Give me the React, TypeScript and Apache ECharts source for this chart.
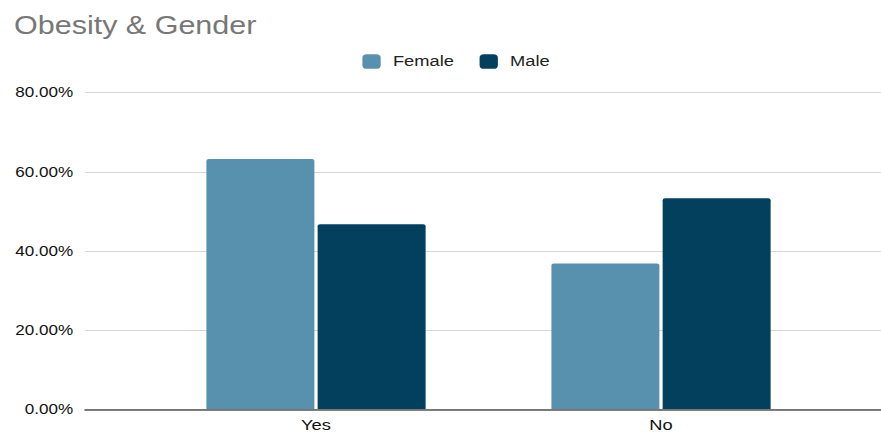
import React, { useEffect, useRef } from "react";
import * as echarts from "echarts";

const categories = ["Yes", "No"];
const femaleValues = [63.2, 36.8];
const maleValues = [46.7, 53.3];
const yTicks = { min: 0, max: 80, interval: 20 };

// The chart is laid out on a narrower canvas and widened horizontally,
// which gives the broad, stretched lettering of the original export.
const OUT_W = 881;
const OUT_H = 433;
const INNER_W = 722;
const SX = OUT_W / INNER_W;

export default function App() {
  const ref = useRef<HTMLDivElement>(null);

  useEffect(() => {
    document.body.style.margin = "0";
    const chart = echarts.init(ref.current!, null, { renderer: "svg" });
    const font = "'Liberation Sans', Arial, sans-serif";
    chart.setOption({
      animation: false,
      backgroundColor: "#ffffff",
      title: {
        text: "Obesity & Gender",
        left: 6.5,
        top: 8,
        textStyle: { fontFamily: font, fontSize: 25, fontWeight: "normal", color: "#777777" },
      },
      legend: {
        left: 292,
        top: 49,
        itemWidth: 15,
        itemHeight: 14.5,
        itemGap: 21,
        icon: "roundRect",
        data: ["Female", "Male"],
        textStyle: { fontFamily: font, fontSize: 15, color: "#222222", padding: [0, 0, 0, 5] },
      },
      grid: [
        { left: 69.7, right: 0, top: 92.5, bottom: 23.5 },
        { left: 117.6, right: 38.9, top: 92.5, bottom: 23.5 },
      ],
      xAxis: [
        {
          type: "category",
          gridIndex: 0,
          data: categories,
          axisLine: { lineStyle: { color: "#555555", width: 1.5 } },
          axisTick: { show: false },
          axisLabel: { show: false },
        },
        {
          type: "category",
          gridIndex: 1,
          data: categories,
          axisLine: { show: false },
          axisTick: { show: false },
          axisLabel: { fontFamily: font, fontSize: 15, color: "#111111", margin: 9 },
        },
      ],
      yAxis: [
        {
          type: "value",
          gridIndex: 0,
          min: yTicks.min,
          max: yTicks.max,
          interval: yTicks.interval,
          axisLine: { show: false },
          axisTick: { show: false },
          splitLine: { lineStyle: { color: "#d6d6d6", width: 1 } },
          axisLabel: {
            fontFamily: font,
            fontSize: 14,
            color: "#111111",
            margin: 9.8,
            formatter: (v: number) => v.toFixed(2) + "%",
          },
        },
        {
          type: "value",
          gridIndex: 1,
          min: yTicks.min,
          max: yTicks.max,
          interval: yTicks.interval,
          show: false,
        },
      ],
      series: [
        {
          name: "Female",
          type: "bar",
          xAxisIndex: 1,
          yAxisIndex: 1,
          data: femaleValues,
          barWidth: 88.5,
          barGap: "3%",
          itemStyle: { color: "#5891ad", borderRadius: [2, 2, 0, 0] },
        },
        {
          name: "Male",
          type: "bar",
          xAxisIndex: 1,
          yAxisIndex: 1,
          data: maleValues,
          barWidth: 88.5,
          barGap: "3%",
          itemStyle: { color: "#03405e", borderRadius: [2, 2, 0, 0] },
        },
      ],
    });
    return () => chart.dispose();
  }, []);

  return (
    <div style={{ position: "absolute", left: 0, top: 0, width: OUT_W, height: OUT_H, overflow: "hidden" }}>
      <div
        ref={ref}
        style={{
          width: INNER_W,
          height: OUT_H,
          transform: `scaleX(${SX})`,
          transformOrigin: "0 0",
        }}
      />
    </div>
  );
}
